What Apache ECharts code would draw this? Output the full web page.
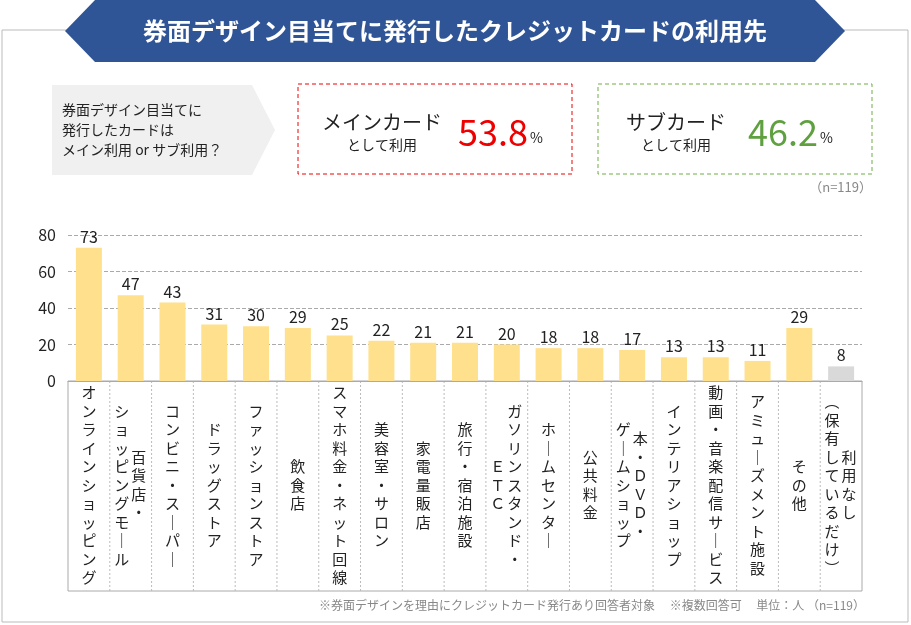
<!DOCTYPE html>
<html><head><meta charset="utf-8">
<script src="https://cdn.jsdelivr.net/npm/echarts@6/dist/echarts.min.js"></script>
<style>html,body{margin:0;padding:0;background:#fff}#c{width:911px;height:625px}</style>
</head><body><div id="c"></div>
<script>
// 利用先（縦書きラベル：行ごとに配列、右の列が1行目）
var categories = [
  ['オンラインショッピング'], ['百貨店・', 'ショッピングモール'], ['コンビニ・スーパー'], ['ドラッグストア'],
  ['ファッションストア'], ['飲食店'], ['スマホ料金・ネット回線'], ['美容室・サロン'], ['家電量販店'],
  ['旅行・宿泊施設'], ['ガソリンスタンド・', 'ＥＴＣ'], ['ホームセンター'], ['公共料金'], ['本・ＤＶＤ・', 'ゲームショップ'],
  ['インテリアショップ'], ['動画・音楽配信サービス'], ['アミューズメント施設'], ['その他'], ['利用なし', '（保有しているだけ）']
];
var values = [73, 47, 43, 31, 30, 29, 25, 22, 21, 21, 20, 18, 18, 17, 13, 13, 11, 29, 8];
var yTicks = [0, 20, 40, 60, 80];
var FONT = '"Noto Sans CJK JP", sans-serif';

var chart = echarts.init(document.getElementById('c'));
var cats = categories.map(function (c, i) { return 'c' + i; });

chart.setOption({
  animation: false,
  grid: { left: 68, right: 49, top: 235, bottom: 244 },
  xAxis: {
    type: 'category', data: cats,
    axisLine: { lineStyle: { color: '#aaa' } }, axisTick: { show: false }, axisLabel: { show: false }
  },
  yAxis: {
    type: 'value', min: yTicks[0], max: yTicks[yTicks.length - 1], interval: 20,
    axisLine: { show: false }, axisTick: { show: false },
    axisLabel: { fontSize: 16, color: '#222', fontFamily: FONT, margin: 12 },
    splitLine: { lineStyle: { color: '#aaa', type: 'dashed' } }
  },
  series: [{
    type: 'bar', barWidth: 26,
    data: values.map(function (v, i) {
      return { value: v, itemStyle: { color: i === values.length - 1 ? '#d9d9d9' : '#ffe08c' } };
    }),
    label: { show: true, position: 'top', fontSize: 16, color: '#222', fontFamily: FONT, distance: 3 }
  }]
});

function vert(s) {
  return s.replace(/ー/g, '｜').replace(/（/g, '︵').replace(/）/g, '︶').split('').join('\n');
}

var g = [
  { type: 'rect', shape: { x: 2, y: 30, width: 906, height: 592 }, style: { fill: 'none', stroke: '#bbb', lineWidth: 1 }, z: -10 },
  { type: 'polygon', shape: { points: [[95, 0], [815, 0], [845, 31], [815, 62], [95, 62], [65, 31]] }, style: { fill: '#2f5597' } },
  { type: 'text', x: 455, y: 31, style: { text: '券面デザイン目当てに発行したクレジットカードの利用先', fill: '#fff', font: 'bold 24px ' + FONT, align: 'center', verticalAlign: 'middle' } },
  { type: 'polygon', shape: { points: [[52, 85], [252, 85], [275, 130], [252, 175], [52, 175]] }, style: { fill: '#f0f0f0' } },
  { type: 'text', x: 62, y: 130, style: { text: '券面デザイン目当てに\n発行したカードは\nメイン利用 or サブ利用？', fill: '#222', font: '14px ' + FONT, lineHeight: 20, verticalAlign: 'middle' } },
  { type: 'rect', shape: { x: 298, y: 84, width: 274, height: 90 }, style: { fill: 'none', stroke: '#e00', lineDash: [4, 3] } },
  { type: 'text', x: 382, y: 122, style: { text: 'メインカード', fill: '#222', font: '20px ' + FONT, align: 'center', verticalAlign: 'middle' } },
  { type: 'text', x: 382, y: 145, style: { text: 'として利用', fill: '#222', font: '14px ' + FONT, align: 'center', verticalAlign: 'middle' } },
  { type: 'text', x: 458, y: 132, style: { text: '{n|53.8}{p|%}', rich: { n: { font: '36px ' + FONT, fill: '#e00' }, p: { font: '14px ' + FONT, fill: '#222', padding: [12, 0, 0, 2] } }, verticalAlign: 'middle' } },
  { type: 'rect', shape: { x: 598, y: 84, width: 274, height: 90 }, style: { fill: 'none', stroke: '#70ad47', lineDash: [4, 3] } },
  { type: 'text', x: 676, y: 122, style: { text: 'サブカード', fill: '#222', font: '20px ' + FONT, align: 'center', verticalAlign: 'middle' } },
  { type: 'text', x: 676, y: 145, style: { text: 'として利用', fill: '#222', font: '14px ' + FONT, align: 'center', verticalAlign: 'middle' } },
  { type: 'text', x: 748, y: 132, style: { text: '{n|46.2}{p|%}', rich: { n: { font: '36px ' + FONT, fill: '#5fa040' }, p: { font: '14px ' + FONT, fill: '#222', padding: [12, 0, 0, 2] } }, verticalAlign: 'middle' } },
  { type: 'text', x: 872, y: 187, style: { text: '（n=119）', fill: '#888', font: '13px ' + FONT, align: 'right', verticalAlign: 'middle' } },
  { type: 'text', x: 865, y: 605, style: { text: '※券面デザインを理由にクレジットカード発行あり回答者対象　 ※複数回答可　 単位：人 （n=119）', fill: '#888', font: '12px ' + FONT, align: 'right', verticalAlign: 'middle' } },
  { type: 'rect', shape: { x: 68, y: 381, width: 794, height: 210 }, style: { fill: 'none', stroke: '#aaa', lineWidth: 1 } }
];

var band = 794 / categories.length;
categories.forEach(function (lines, i) {
  var cx = chart.convertToPixel({ xAxisIndex: 0 }, cats[i]);
  if (i > 0) {
    g.push({ type: 'line', shape: { x1: cx - band / 2, y1: 381, x2: cx - band / 2, y2: 591 }, style: { stroke: '#bbb', lineDash: [2, 2] } });
  }
  var n = lines.length;
  lines.forEach(function (t, j) {
    var dx = n === 1 ? 0 : (j === 0 ? 8 : -9);
    g.push({ type: 'text', x: cx + dx, y: 485, style: { text: vert(t), fill: '#222', font: '15px ' + FONT, lineHeight: 18.5, align: 'center', verticalAlign: 'middle' } });
  });
});

chart.setOption({ graphic: g });
</script>
</body></html>
